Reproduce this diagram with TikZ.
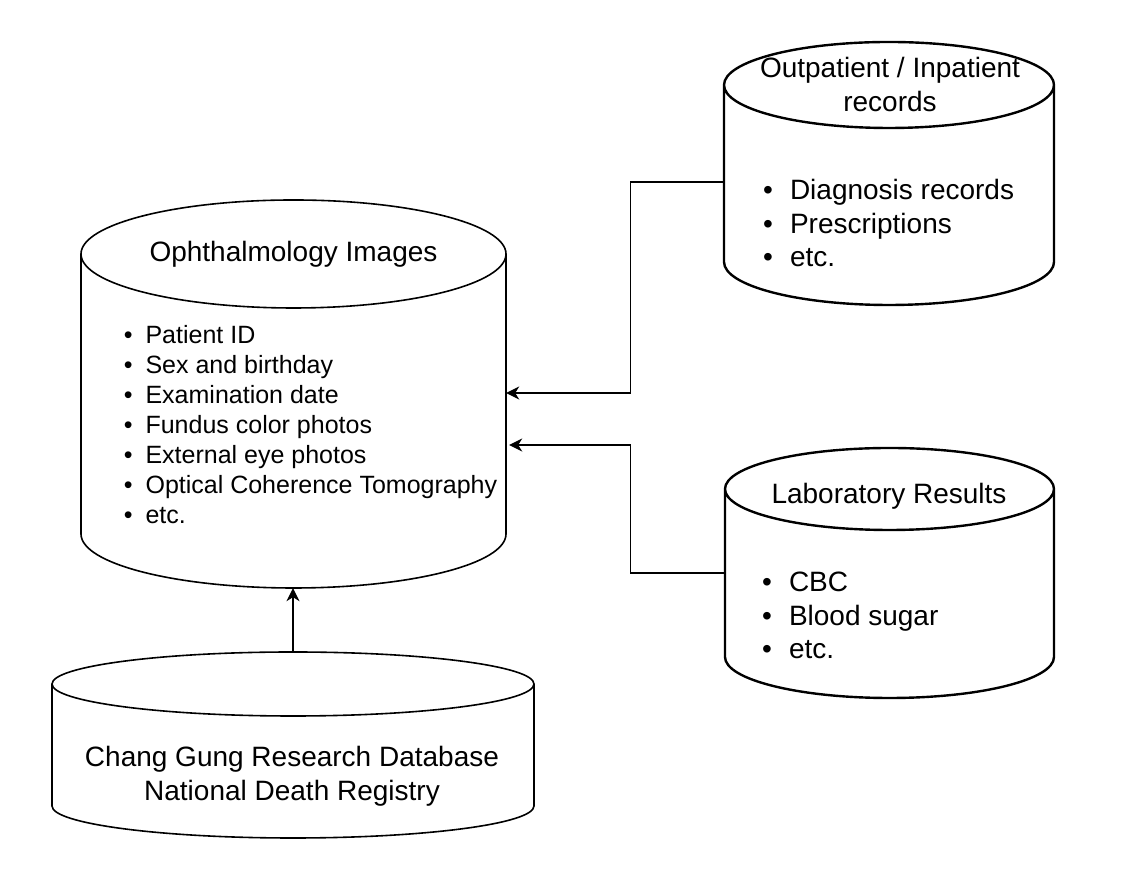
\documentclass[tikz,border=0pt]{standalone}
\usepackage{fontspec}
\setmainfont{Liberation Sans}
\usetikzlibrary{arrows.meta}

% database cylinder: name, cx, cy, half width, half height, ry, line width
\newcommand{\dbcyl}[7]{%
  \node[db box, minimum width=2*#4, minimum height=2*#5] (#1) at (#2,#3) {};
  \draw[line width=#7] ({#2-#4},{#3+#5-#6}) -- ({#2-#4},{#3-#5+#6})
    arc[start angle=180, end angle=360, x radius=#4, y radius=#6]
    -- ({#2+#4},{#3+#5-#6})
    arc[start angle=0, end angle=360, x radius=#4, y radius=#6];
}

\begin{document}
\begin{tikzpicture}[x=1pt,y=1pt,>={Stealth[length=13pt,width=13pt,inset=4pt]},
  db box/.style={draw=none,inner sep=0pt},
  link/.style={->,line width=1.3pt},
  title/.style={inner sep=0pt,align=center,font=\fontsize{28}{34}\selectfont},
  list/.style={inner sep=0pt,align=left,anchor=west,font=\fontsize{28}{33.5}\selectfont},
  small list/.style={inner sep=0pt,align=left,anchor=west,font=\fontsize{25}{30}\selectfont}]

  \useasboundingbox (0,0) rectangle (1121,882);

  % the four databases
  \dbcyl{oph}{293.5}{488}{212.5}{194}{54}{1.6pt}
  \dbcyl{outp}{889}{708.5}{165}{131.5}{43}{2.4pt}
  \dbcyl{lab}{889.5}{309}{164.5}{125}{41}{2.4pt}
  \dbcyl{base}{293}{137}{241}{93}{32}{1.6pt}

  % texts
  \node[title, anchor=base] (ophtitle) at (293.5,620) {Ophthalmology Images};
  \node[small list] (ophlist) at (123.6,457.5) {%
    \textbullet\hspace{13pt}Patient ID\\
    \textbullet\hspace{13pt}Sex and birthday\\
    \textbullet\hspace{13pt}Examination date\\
    \textbullet\hspace{13pt}Fundus color photos\\
    \textbullet\hspace{13pt}External eye photos\\
    \textbullet\hspace{13pt}Optical Coherence Tomography\\
    \textbullet\hspace{13pt}etc.};

  \node[title] (outptitle) at (890,797.3) {Outpatient / Inpatient\\records};
  \node[list] (outplist) at (763,658.5) {%
    \textbullet\hspace{17pt}Diagnosis records\\
    \textbullet\hspace{17pt}Prescriptions\\
    \textbullet\hspace{17pt}etc.};

  \node[title, anchor=base] (labtitle) at (889,378) {Laboratory Results};
  \node[list] (lablist) at (762,266.5) {%
    \textbullet\hspace{17pt}CBC\\
    \textbullet\hspace{17pt}Blood sugar\\
    \textbullet\hspace{17pt}etc.};

  \node[title] (basetext) at (292,106) {Chang Gung Research Database\\National Death Registry};

  % connectors
  \draw[link] ([yshift=-8.5pt]outp.west) -- ++(-93,0) |- ([yshift=1pt]oph.east);
  \draw[link] (lab.west) -- ++(-94,0) |- ([yshift=-51pt,xshift=3pt]oph.east);
  \draw[link] (base.north) -- (base.north |- oph.south);
\end{tikzpicture}
\end{document}
